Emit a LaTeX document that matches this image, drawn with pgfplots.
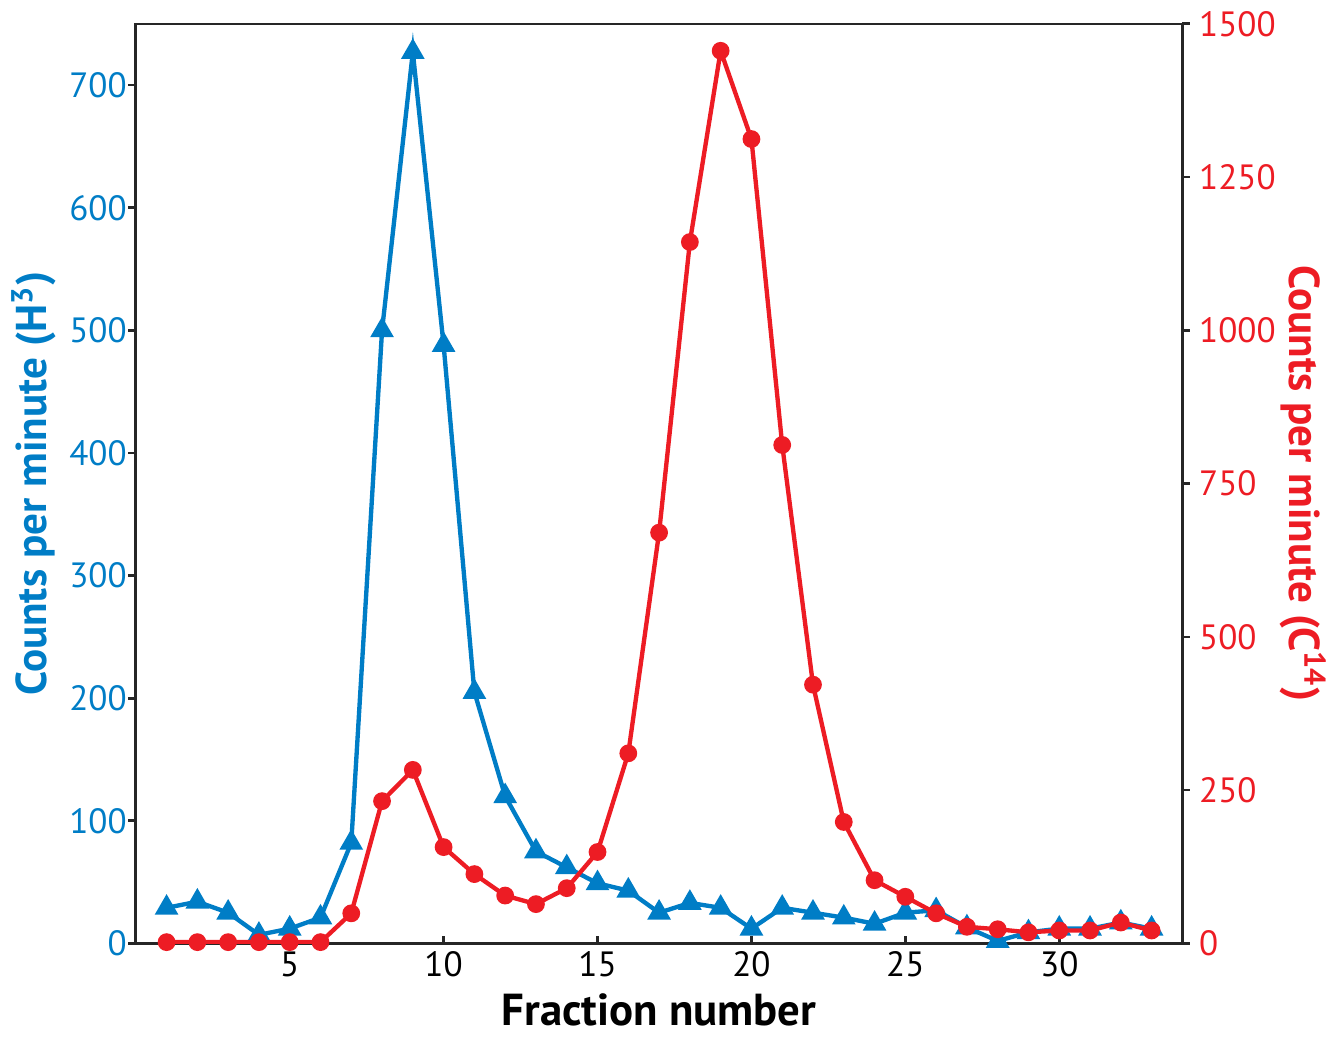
\documentclass[border=0pt]{standalone}
\usepackage{fontspec}
\setmainfont{PT Sans}
\usepackage{pgfplots}
\pgfplotsset{compat=1.18}
\definecolor{hblue}{RGB}{0,125,198}
\definecolor{cred}{RGB}{237,28,36}
\begin{document}
\begin{tikzpicture}
\begin{axis}[
  scale only axis, width=313pt, height=275pt,
  xmin=0, xmax=34, ymin=0, ymax=750,
  xtick={5,10,15,20,25,30}, ytick={0,100,...,700},
  xtick pos=bottom, ytick pos=left,
  xtick align=inside, ytick align=outside,
  major tick length=2.2pt,
  axis line style={line width=0.8pt, black!85},
  every tick/.style={line width=0.8pt, black!85},
  /pgf/number format/assume math mode=true,
  tick label style={font=\fontsize{10.5}{12}\selectfont},
  yticklabel style={hblue, xshift=3pt},
  xticklabel style={yshift=1pt},
  xlabel={\textbf{Fraction number}},
  xlabel style={font=\fontsize{13.4}{15}\selectfont, yshift=2pt},
  ylabel={\textbf{Counts per minute (H\textsuperscript{3})}},
  ylabel style={font=\fontsize{12.9}{15}\selectfont, hblue, yshift=-3pt},
]
\addplot[hblue, line width=1.3pt, mark=triangle*, mark size=2.8pt] coordinates {
(1,29) (2,34) (3,25) (4,7) (5,12) (6,21) (7,82) (8,500) (9,727) (10,488)
(11,205) (12,120) (13,75) (14,62) (15,49) (16,43) (17,25) (18,33) (19,29) (20,12)
(21,29) (22,25) (23,21) (24,16) (25,25) (26,27) (27,13) (28,2) (29,9) (30,12)
(31,12) (32,17) (33,12)};
\end{axis}
\begin{axis}[
  scale only axis, width=313pt, height=275pt,
  xmin=0, xmax=34, ymin=0, ymax=1500,
  axis x line=none, axis y line*=right,
  ytick={0,250,...,1500},
  ytick align=outside,
  major tick length=2.2pt,
  axis line style={line width=0.8pt, black!85},
  every tick/.style={line width=0.8pt, black!85},
  /pgf/number format/assume math mode=true,
  /pgf/number format/1000 sep={},
  tick label style={font=\fontsize{10.5}{12}\selectfont},
  yticklabel style={cred, xshift=-0.7pt},
  ylabel={\textbf{Counts per minute (C\textsuperscript{14})}},
  ylabel style={font=\fontsize{12.9}{15}\selectfont, cred, rotate=180},
  ylabel shift=-5.5pt,
]
\addplot[cred, line width=1.3pt, mark=*, mark size=2pt] coordinates {
(1,2) (2,2) (3,2) (4,2) (5,2) (6,2) (7,49) (8,232) (9,283) (10,157)
(11,113) (12,78) (13,64) (14,90) (15,149) (16,310) (17,670) (18,1144) (19,1456) (20,1312)
(21,813) (22,422) (23,198) (24,103) (25,76) (26,49) (27,27) (28,23) (29,18) (30,21)
(31,21) (32,34) (33,21)};
\end{axis}
\end{tikzpicture}
\end{document}
